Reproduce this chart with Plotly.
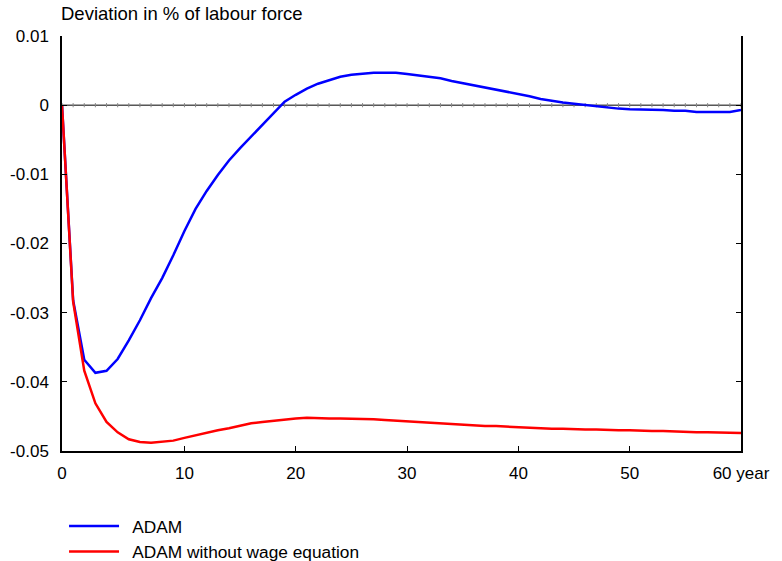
import plotly.graph_objects as go

# Years: first point is the baseline (labelled "0" at the left edge)
years = list(range(-1, 61))

adam = [0.0,
        -0.0282, -0.0368, -0.0387, -0.0384, -0.0367, -0.0340, -0.0311, -0.0279, -0.0250, -0.0217,
        -0.0182, -0.0150, -0.0124, -0.0101, -0.0080, -0.0062, -0.0045, -0.0028, -0.0011, 0.0005,
        0.0015, 0.0024, 0.0031, 0.0036, 0.0041, 0.0044, 0.0046, 0.0047, 0.0047, 0.0047,
        0.0045, 0.0043, 0.0040, 0.0039, 0.0035, 0.0032, 0.0029, 0.0026, 0.0023, 0.0020,
        0.0016, 0.0013, 0.0009, 0.0006, 0.0004, 0.0002, 0.0000, -0.0001, -0.0003, -0.0005,
        -0.0006, -0.0006, -0.0007, -0.0007, -0.0008, -0.0008, -0.0010, -0.0010, -0.0009, -0.0010,
        -0.0007]

adam_no_wage = [0.0,
                -0.0284, -0.0384, -0.0431, -0.0458, -0.0473, -0.0483, -0.0487, -0.0488, -0.0487, -0.0485,
                -0.0481, -0.0477, -0.0473, -0.0470, -0.0467, -0.0463, -0.0460, -0.0458, -0.0456, -0.0454,
                -0.0453, -0.0452, -0.0453, -0.0453, -0.0453, -0.0453, -0.0453, -0.0454, -0.0455, -0.0456,
                -0.0458, -0.0458, -0.0460, -0.0461, -0.0462, -0.0462, -0.0463, -0.0464, -0.0464, -0.0465,
                -0.0466, -0.0466, -0.0467, -0.0468, -0.0468, -0.0469, -0.0469, -0.0469, -0.0470, -0.0470,
                -0.0470, -0.0471, -0.0471, -0.0471, -0.0472, -0.0472, -0.0473, -0.0473, -0.0473, -0.0474,
                -0.0474]

series_names = ["ADAM", "ADAM without wage equation"]

x_tickvals = [-1, 10, 20, 30, 40, 50, 60]
x_ticktext = ["0", "10", "20", "30", "40", "50", "60 year"]
y_tickvals = [0.01, 0, -0.01, -0.02, -0.03, -0.04, -0.05]
y_ticktext = ["0.01", "0", "-0.01", "-0.02", "-0.03", "-0.04", "-0.05"]

FONT = "Liberation Sans, Arial, Helvetica, sans-serif"
GAP = "\u00a0\u2009"

fig = go.Figure()

# zero line with small yearly tick marks
fig.add_trace(go.Scatter(
    x=years, y=[0] * len(years), mode="lines+markers",
    line=dict(color="black", width=1),
    marker=dict(symbol="line-ns", size=3, line=dict(color="#888888", width=1)),
    showlegend=False, hoverinfo="skip"))

fig.add_trace(go.Scatter(x=years, y=adam, mode="lines", name=GAP + series_names[0],
                         line=dict(color="#0000ff", width=2.5)))
fig.add_trace(go.Scatter(x=years, y=adam_no_wage, mode="lines", name=GAP + series_names[1],
                         line=dict(color="#ff0000", width=2.5)))

fig.update_layout(
    width=782, height=561,
    margin=dict(l=62, r=41, t=36, b=110, autoexpand=False),
    paper_bgcolor="white", plot_bgcolor="white",
    font=dict(family=FONT, size=18, color="black"),
    showlegend=True,
    legend=dict(x=0.003, y=-0.138, xanchor="left", yanchor="top",
                orientation="v", font=dict(size=17.3), itemwidth=50,
                bgcolor="rgba(0,0,0,0)", tracegroupgap=0),
    annotations=[dict(text="Deviation in % of labour force", xref="paper", yref="paper",
                      x=0, y=1, xanchor="left", yanchor="bottom", yshift=10, xshift=-3,
                      showarrow=False, font=dict(size=18.5, family=FONT))],
)

fig.update_xaxes(range=[-1, 60], tickvals=x_tickvals, ticktext=x_ticktext,
                 ticks="inside", ticklen=5, tickcolor="black",
                 showline=True, linecolor="black", linewidth=1.5, mirror=False,
                 showgrid=False, zeroline=False, ticklabelstandoff=6,
                 tickfont=dict(size=17))
fig.update_yaxes(range=[-0.05, 0.01], tickvals=y_tickvals, ticktext=y_ticktext,
                 ticks="inside", ticklen=5, tickcolor="black",
                 showline=True, linecolor="black", linewidth=1.5, mirror="ticks",
                 showgrid=False, zeroline=False, ticklabelstandoff=8,
                 tickfont=dict(size=17))

fig.write_html("out.html")
